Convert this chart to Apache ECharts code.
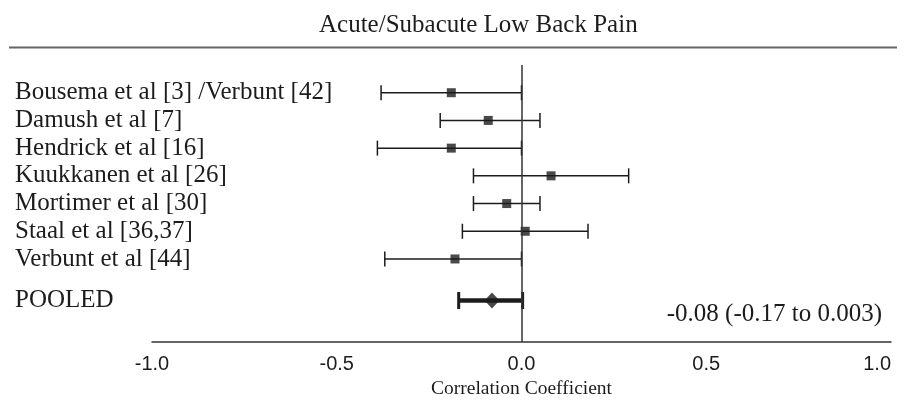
<!DOCTYPE html>
<html>
<head>
<meta charset="utf-8">
<script src="https://cdn.jsdelivr.net/npm/echarts@6/dist/echarts.min.js"></script>
<style>html,body{margin:0;padding:0;background:#fff}#c{width:907px;height:404px}</style>
</head>
<body>
<div id="c"></div>
<script>
const titleText = 'Acute/Subacute Low Back Pain';
const studies = ['Bousema et al [3] /Verbunt [42]', 'Damush et al [7]', 'Hendrick et al [16]', 'Kuukkanen et al [26]', 'Mortimer et al [30]', 'Staal et al [36,37]', 'Verbunt et al [44]'];
const estimates = [-0.19, -0.09, -0.19, 0.08, -0.04, 0.01, -0.18];
const lowerCI = [-0.38, -0.22, -0.39, -0.13, -0.13, -0.16, -0.37];
const upperCI = [0.00, 0.05, 0.00, 0.29, 0.05, 0.18, 0.00];
const pooledLabel = 'POOLED';
const pooledRow = 7.5;
const pooledEstimate = -0.08;
const pooledLower = -0.17;
const pooledUpper = 0.003;
const xTicks = [-1.0, -0.5, 0.0, 0.5, 1.0];
const xAxisTitle = 'Correlation Coefficient';

const SERIF = '"Liberation Serif", "Times New Roman", serif';
const SANS = '"Liberation Sans", Arial, sans-serif';
const INK = '#1c1c1c';

const chart = echarts.init(document.getElementById('c'), null, {renderer: 'canvas'});

const rowData = studies.map((s, i) => [lowerCI[i], upperCI[i], i]);
const pointData = studies.map((s, i) => [estimates[i], i]);

function renderCI(params, api) {
  const lo = api.coord([api.value(0), api.value(2)]);
  const hi = api.coord([api.value(1), api.value(2)]);
  const h = 7.5;
  const st = {stroke: INK, lineWidth: 1.5};
  return {
    type: 'group',
    children: [
      {type: 'line', shape: {x1: lo[0], y1: lo[1], x2: hi[0], y2: hi[1]}, style: st},
      {type: 'line', shape: {x1: lo[0], y1: lo[1] - h, x2: lo[0], y2: lo[1] + h}, style: st},
      {type: 'line', shape: {x1: hi[0], y1: hi[1] - h, x2: hi[0], y2: hi[1] + h}, style: st}
    ]
  };
}
function renderPooled(params, api) {
  const lo = api.coord([api.value(0), api.value(2)]);
  const hi = api.coord([api.value(1), api.value(2)]);
  const h = 8.5;
  return {
    type: 'group',
    children: [
      {type: 'line', shape: {x1: lo[0], y1: lo[1], x2: hi[0], y2: hi[1]}, style: {stroke: INK, lineWidth: 4.5}},
      {type: 'line', shape: {x1: lo[0], y1: lo[1] - h, x2: lo[0], y2: lo[1] + h}, style: {stroke: INK, lineWidth: 3}},
      {type: 'line', shape: {x1: hi[0], y1: hi[1] - h, x2: hi[0], y2: hi[1] + h}, style: {stroke: INK, lineWidth: 3}}
    ]
  };
}

const labelMap = {};
studies.forEach((s, i) => { labelMap[i.toFixed(1)] = s; });
labelMap[pooledRow.toFixed(1)] = pooledLabel;

chart.setOption({
  animation: false,
  backgroundColor: '#fff',
  title: {
    text: titleText,
    left: 314,
    top: 8,
    textStyle: {fontFamily: SERIF, fontSize: 25, fontWeight: 'normal', color: INK}
  },
  grid: {left: 152, right: 16, top: 65, bottom: 61.5, containLabel: false},
  xAxis: {
    type: 'value', min: -1, max: 1, interval: 0.5,
    axisLine: {show: true, onZero: false, lineStyle: {color: '#333', width: 1.5}},
    axisTick: {show: false},
    splitLine: {show: false},
    axisLabel: {
      margin: 12, fontFamily: SANS, fontSize: 20, color: INK,
      alignMaxLabel: 'right',
      formatter: v => (xTicks.some(t => Math.abs(t - v) < 1e-9) ? v.toFixed(1) : '')
    },
    name: xAxisTitle, nameLocation: 'middle', nameGap: 36,
    nameTextStyle: {fontFamily: SERIF, fontSize: 19.5, color: INK}
  },
  yAxis: {
    type: 'value', min: -1, max: 9, interval: 0.5, inverse: true,
    axisLine: {show: false}, axisTick: {show: false}, splitLine: {show: false},
    axisLabel: {
      show: true, align: 'left', margin: 137,
      fontFamily: SERIF, fontSize: 25, color: INK,
      padding: [4, 0, 0, 0],
      formatter: v => labelMap[Number(v).toFixed(1)] || ''
    }
  },
  graphic: [
    {type: 'line', silent: true, shape: {x1: 9, y1: 47.5, x2: 897, y2: 47.5}, style: {stroke: '#666', lineWidth: 2}},
    {type: 'text', silent: true, x: 882, y: 314,
      style: {text: pooledEstimate.toFixed(2) + ' (' + pooledLower.toFixed(2) + ' to ' + pooledUpper.toFixed(3) + ')',
        textAlign: 'right', textVerticalAlign: 'middle', font: '25px ' + SERIF, fill: INK}}
  ],
  series: [
    {
      type: 'custom', renderItem: renderCI, data: rowData, z: 3,
      encode: {x: [0, 1], y: 2},
      markLine: {
        silent: true, symbol: 'none', label: {show: false},
        lineStyle: {color: '#333', width: 1.5, type: 'solid'},
        data: [{xAxis: 0}]
      }
    },
    {
      type: 'scatter', data: pointData, symbol: 'rect', symbolSize: 9, z: 4,
      itemStyle: {color: INK}
    },
    {
      type: 'custom', renderItem: renderPooled, data: [[pooledLower, pooledUpper, pooledRow]], z: 3,
      encode: {x: [0, 1], y: 2}
    },
    {
      type: 'scatter', data: [[pooledEstimate, pooledRow]], symbol: 'diamond', symbolSize: [15, 16], z: 4,
      itemStyle: {color: INK}
    }
  ]
});
</script>
</body>
</html>
